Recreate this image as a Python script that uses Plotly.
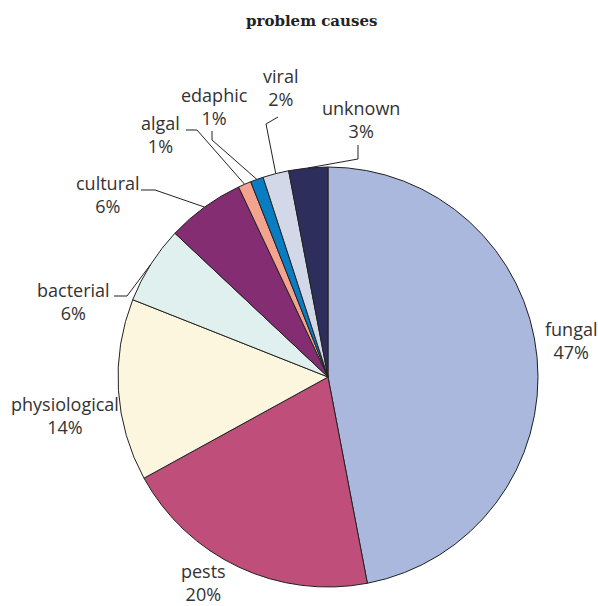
import math
import plotly.graph_objects as go

# ---- data ----
categories = ["fungal", "pests", "physiological", "bacterial", "cultural",
              "algal", "edaphic", "viral", "unknown"]
percent = [47, 20, 14, 6, 6, 1, 1, 2, 3]
title_text = "problem causes"

# ---- style ----
colors = ["#AAB8DE", "#BF4F7A", "#FCF6DF", "#E0F0EF", "#842D73",
          "#F4A38E", "#0A7CC2", "#D3D8E9", "#2D2E5C"]
W, H = 598, 606
CX, CY, R = 328, 377, 210  # pie centre / radius in pixels

# label centres (pixels) and leader elbow points (pixels)
label_pos = {
    "fungal": (571, 340), "pests": (203, 582), "physiological": (65, 415),
    "bacterial": (73, 302), "cultural": (108, 194), "algal": (160, 134),
    "edaphic": (214, 106), "viral": (280, 87), "unknown": (361, 120),
}
elbows = {
    "unknown": [(358, 145), (358, 159)],
    "viral": [(278, 117), (266, 124)],
    "edaphic": [(212, 131), (212, 140)],
    "algal": [(186, 130), (197, 130)],
    "cultural": [(141, 190), (155, 190)],
    "bacterial": [(114, 296), (127, 296)],
}


def px(x):
    return x / W


def py(y):
    return 1 - y / H


fig = go.Figure(go.Pie(
    labels=categories, values=percent, sort=False, direction="clockwise",
    rotation=0, textinfo="none", hoverinfo="label+percent",
    marker=dict(colors=colors, line=dict(color="#222222", width=1)),
    domain=dict(x=[px(CX - R), px(CX + R)], y=[py(CY + R), py(CY - R)]),
    showlegend=False,
))

total = sum(percent)
annotations = []
shapes = []
cum = 0
for cat, v in zip(categories, percent):
    mid = 360 * (cum + v / 2) / total
    cum += v
    lx, ly = label_pos[cat]
    annotations.append(dict(
        x=px(lx), y=py(ly), xref="paper", yref="paper",
        text=f"{cat}<br>{v}%", showarrow=False, xanchor="center", yanchor="middle",
        font=dict(family="Open Sans", size=18, color="#333333"), align="center",
        borderpad=0,
    ))
    if cat in elbows:
        ex = CX + R * math.sin(math.radians(mid))
        ey = CY - R * math.cos(math.radians(mid))
        pts = elbows[cat] + [(ex, ey)]
        path = "M " + " L ".join(f"{px(a):.5f} {py(b):.5f}" for a, b in pts)
        shapes.append(dict(type="path", path=path, xref="paper", yref="paper",
                           line=dict(color="#222222", width=1)))

annotations.append(dict(
    x=px(311), y=py(21), xref="paper", yref="paper", text=f"<b>{title_text}</b>",
    showarrow=False, xanchor="center", yanchor="middle",
    font=dict(family="DejaVu Serif", size=15, color="#222222"),
))

fig.update_layout(
    width=W, height=H, margin=dict(l=0, r=0, t=0, b=0),
    paper_bgcolor="white", plot_bgcolor="white",
    annotations=annotations, shapes=shapes,
)
fig.write_html("out.html")
